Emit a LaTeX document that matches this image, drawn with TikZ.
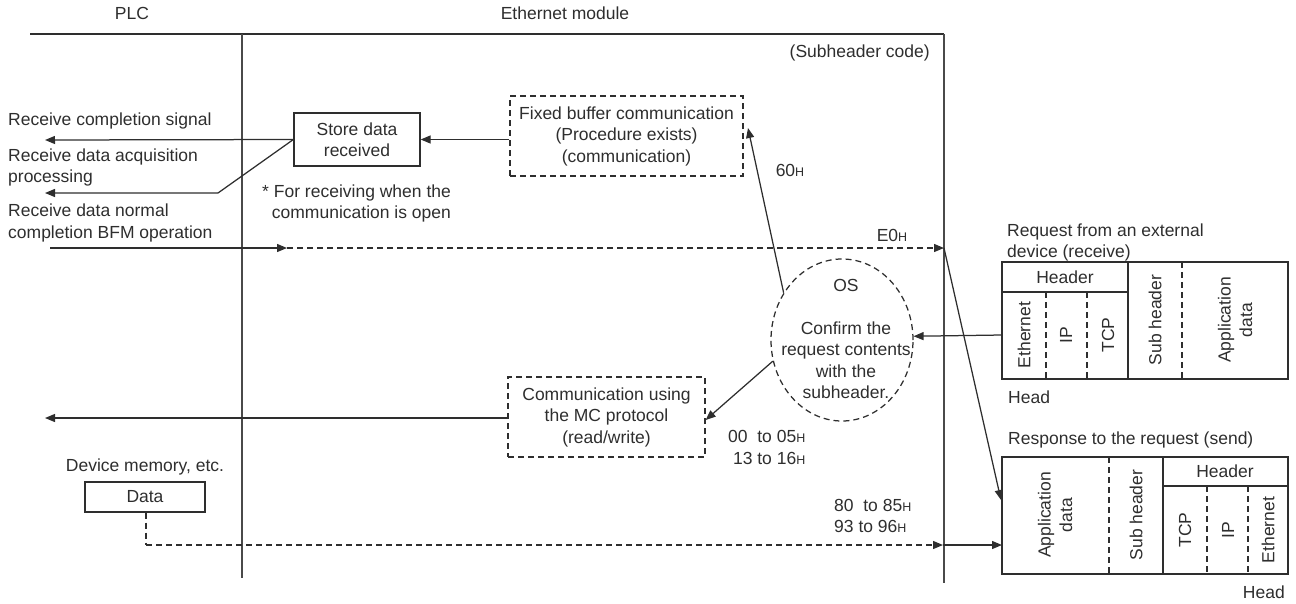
\documentclass[tikz,border=0pt]{standalone}
\usepackage{fontspec}
\setmainfont{Liberation Sans}
\usetikzlibrary{arrows.meta,shapes.geometric,calc}
\definecolor{ink}{HTML}{2E2E2E}
\definecolor{vline}{HTML}{4A4A4A}
\newcommand{\hsub}{{\fontsize{12.5}{12.5}\selectfont H}}
\begin{document}
\begin{tikzpicture}[x=1pt,y=-1pt,
  every node/.style={font=\fontsize{17.5}{21.5}\selectfont, text=ink, inner sep=0pt},
  ln/.style={draw=ink, line width=1.25pt},
  vl/.style={draw=vline, line width=1.4pt},
  dsh/.style={ln, dash pattern=on 6pt off 4pt},
  tip/.style={-{Triangle[length=10pt,width=8pt]}},
  arr/.style={ln, tip},
  darr/.style={dsh, tip},
  sbox/.style={ln, rectangle, align=center},
  dbox/.style={dsh, rectangle, align=center},
  lbl/.style={anchor=west, align=left},
  vt/.style={rotate=90, align=center}
]
\useasboundingbox (0,0) rectangle (1296,603);

% frame
\coordinate (tl) at (30,34);
\coordinate (tm) at (242,34);
\coordinate (tr) at (944,34);
\coordinate (bm) at (242,578);
\coordinate (br) at (944,583);
\draw[ln] (tl) -- (tr);
\draw[vl] (tm) -- (bm);
\draw[vl] (tr) -- (br);

\node (plc) at (132,13) {PLC};
\node (eth) at (565,13) {Ethernet module};
\node[anchor=east] (subc) at (930,53) {(Subheader code)};

% left labels
\node[lbl] (l1) at (8,121) {Receive completion signal};
\node[lbl] (l2) at (8,167.5) {Receive data acquisition\\processing};
\node[lbl] (l3) at (8,223) {Receive data normal\\completion BFM operation};

% boxes
\node[sbox, minimum width=126pt, minimum height=53pt] (store) at (357,139.5) {Store data\\received};
\node[dbox, minimum width=233pt, minimum height=80pt] (fixed) at (626.5,136) {Fixed buffer communication\\(Procedure exists)\\(communication)};
\node[dbox, minimum width=197pt, minimum height=80pt] (mc) at (606.5,417) {Communication using\\the MC protocol\\(read/write)};
\node[dsh, ellipse, minimum width=142pt, minimum height=162pt] (os) at (842,340) {};
\node[align=center] (ostext) at (846,339) {OS\\[21.5pt]Confirm the\\request contents\\with the\\subheader.};

\node[lbl] (note) at (262,203.5) {* For receiving when the\\\ \ communication is open};

\node (e0) at (892,235) {E0\hsub};
\node (c60) at (790,170) {60\hsub};
\node[lbl] (c00) at (728,447.5) {00\ \ to 05\hsub\\\ 13 to 16\hsub};
\node[lbl] (c80) at (834,516) {80\ \ to 85\hsub\\93 to 96\hsub};

\node (devm) at (145,467) {Device memory, etc.};
\node[sbox, minimum width=120pt, minimum height=30pt] (data) at (145,497) {Data};

% connectors left
\coordinate (a1) at (45,140);
\coordinate (a2) at (45,193);
\coordinate (a2b) at (218,193);
\coordinate (a3s) at (50,248);
\coordinate (a3m) at (287,248);
\coordinate (a3e) at (944,248);
\coordinate (a4) at (45,418);
\coordinate (fx) at (748,128);
\coordinate (rin) at (1002,335);
\coordinate (db) at (146,545);
\coordinate (de) at (943,545);
\coordinate (rs) at (1002,545);
\coordinate (rsl) at (1001,500);

\draw[arr] (fixed.west |- store.east) -- (store.east);
\draw[arr] (store.west) -- (a1);
\draw[arr] (store.west) -- (a2b) -- (a2);
\draw[arr] (a3s) -- (a3m);
\draw[darr] (a3m) -- (a3e);
\draw[arr] (os.141) -- (fx);
\draw[arr] (rin) -- (os.3);
\draw[arr] (os.197) -- ([yshift=-3pt]mc.east);
\draw[arr] (mc.west |- a4) -- (a4);
\draw[dsh] ([xshift=1pt]data.south) -- (db);
\draw[darr] (db) -- (de);
\draw[arr] (de) -- (rs);
\draw[arr] (a3e) -- (rsl);

% request frame
\node[lbl] (reqt) at (1007,242.5) {Request from an external\\device (receive)};
\node[ln, rectangle, minimum width=286pt, minimum height=117pt] (req) at (1145,320.5) {};
\draw[ln] (1002,292) -- (1128,292);
\draw[ln] (1128,262) -- (1128,379);
\draw[dsh] (1046,292) -- (1046,379);
\draw[dsh] (1087,292) -- (1087,379);
\draw[dsh] (1182,262) -- (1182,379);
\node (rh) at (1065,277) {Header};
\node[vt] (re) at (1024,335) {Ethernet};
\node[vt] (ri) at (1066,335) {IP};
\node[vt] (rt) at (1108,335) {TCP};
\node[vt] (rsh) at (1155,320) {Sub header};
\node[vt] (ra) at (1235,320) {Application\\data};
\node[lbl] (rhead) at (1008,397) {Head};

% response frame
\node[lbl] (rspt) at (1008,440) {Response to the request (send)};
\node[ln, rectangle, minimum width=286pt, minimum height=117pt] (rsp) at (1145,515.5) {};
\draw[dsh] (1109,457) -- (1109,574);
\draw[ln] (1163,457) -- (1163,574);
\draw[ln] (1163,486) -- (1288,486);
\draw[dsh] (1207,486) -- (1207,574);
\draw[dsh] (1248,486) -- (1248,574);
\node (sh) at (1225,471) {Header};
\node[vt] (sa) at (1055,515) {Application\\data};
\node[vt] (ss) at (1136,515) {Sub header};
\node[vt] (st) at (1185,530) {TCP};
\node[vt] (si) at (1228,530) {IP};
\node[vt] (se) at (1268,530) {Ethernet};
\node[anchor=east] (shead) at (1285,592) {Head};
\end{tikzpicture}
\end{document}
